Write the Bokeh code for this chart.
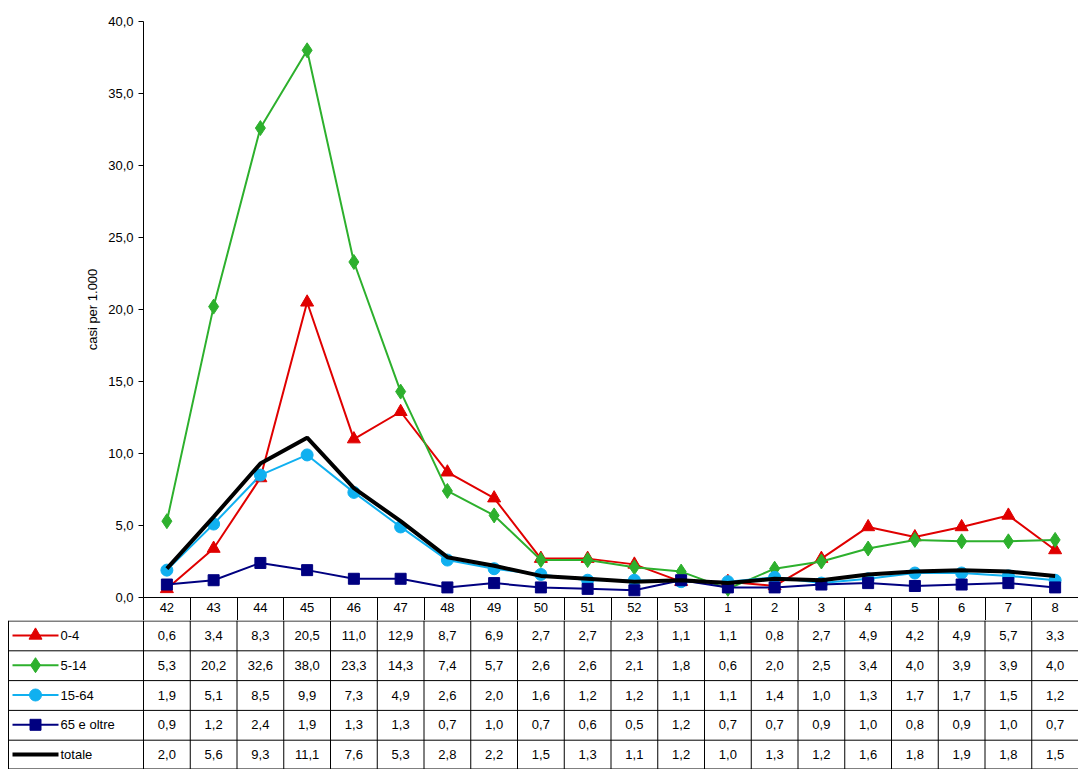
from bokeh.plotting import figure
from bokeh.layouts import column
from bokeh.models import Range1d, FixedTicker
from bokeh.core.properties import value
from bokeh.embed import file_html
from bokeh.resources import INLINE

weeks = ["42","43","44","45","46","47","48","49","50","51","52","53","1","2","3","4","5","6","7","8"]
s04 = [0.6,3.4,8.3,20.5,11.0,12.9,8.7,6.9,2.7,2.7,2.3,1.1,1.1,0.8,2.7,4.9,4.2,4.9,5.7,3.3]
s514 = [5.3,20.2,32.6,38.0,23.3,14.3,7.4,5.7,2.6,2.6,2.1,1.8,0.6,2.0,2.5,3.4,4.0,3.9,3.9,4.0]
s1564 = [1.9,5.1,8.5,9.9,7.3,4.9,2.6,2.0,1.6,1.2,1.2,1.1,1.1,1.4,1.0,1.3,1.7,1.7,1.5,1.2]
s65 = [0.9,1.2,2.4,1.9,1.3,1.3,0.7,1.0,0.7,0.6,0.5,1.2,0.7,0.7,0.9,1.0,0.8,0.9,1.0,0.7]
tot = [2.0,5.6,9.3,11.1,7.6,5.3,2.8,2.2,1.5,1.3,1.1,1.2,1.0,1.3,1.2,1.6,1.8,1.9,1.8,1.5]
names = ["0-4","5-14","15-64","65 e oltre","totale"]
yticks = [0,5,10,15,20,25,30,35,40]

FONT = "Liberation Sans"
series = [
    (s04, "#e00000", "triangle", 13),
    (s514, "#2db02d", "diamond", 15),
    (s1564, "#10b0f0", "circle", 12),
    (s65, "#000080", "square", 11),
    (tot, "#000000", None, 0),
]
n = len(weeks)
xs = [i + 0.5 for i in range(n)]
W = 1078
LEFT = 143
unit = (W - LEFT) / n

p = figure(width=W, height=620, x_range=Range1d(0, n), y_range=Range1d(0, 40),
           output_backend="svg", toolbar_location=None,
           min_border_left=LEFT, min_border_right=0, min_border_top=21, min_border_bottom=23)
p.frame_align = False
p.outline_line_color = None
p.xgrid.visible = False
p.ygrid.visible = False
p.xaxis.ticker = FixedTicker(ticks=xs, minor_ticks=list(range(n + 1)))
p.xaxis.major_label_overrides = {x: w for x, w in zip(xs, weeks)}
p.xaxis.major_tick_line_color = None
p.xaxis.major_tick_in = 0
p.xaxis.major_tick_out = 0
p.xaxis.minor_tick_line_color = "black"
p.xaxis.minor_tick_in = 0
p.xaxis.minor_tick_out = 23
p.xaxis.axis_line_color = "black"
p.xaxis.major_label_standoff = -18
p.xaxis.major_label_text_font = FONT
p.xaxis.major_label_text_font_size = "13px"
p.xaxis.major_label_text_color = "black"
p.yaxis.ticker = FixedTicker(ticks=yticks)
p.yaxis.major_label_overrides = {t: f"{t:.1f}".replace(".", ",") for t in yticks}
p.yaxis.minor_tick_line_color = None
p.yaxis.axis_line_color = "black"
p.yaxis.major_tick_line_color = "black"
p.yaxis.major_tick_in = 0
p.yaxis.major_tick_out = 5
p.yaxis.major_label_text_font = FONT
p.yaxis.major_label_text_font_size = "13px"
p.yaxis.major_label_text_color = "black"
p.yaxis.axis_label = "casi per 1.000"
p.yaxis.axis_label_text_font = FONT
p.yaxis.axis_label_text_font_size = "13px"
p.yaxis.axis_label_text_font_style = "normal"
p.yaxis.axis_label_text_color = "black"

for vals, col, mk, sz in series:
    if mk is None:
        p.line(xs, vals, line_color=col, line_width=4)
    else:
        p.line(xs, vals, line_color=col, line_width=2)
        p.scatter(xs, vals, marker=mk, size=sz, fill_color=col, line_color=col)

# table below the header row
H = 149
rowh = H / 5
lx0 = -LEFT / unit
t = figure(width=W, height=H, x_range=Range1d(lx0, n), y_range=Range1d(H, 0),
           output_backend="svg", toolbar_location=None,
           min_border_left=0, min_border_right=0, min_border_top=0, min_border_bottom=0)
t.frame_align = False
t.outline_line_color = None
t.axis.visible = False
t.grid.visible = False
tl = lx0 + 8 / unit
ys = [k * rowh + 0.5 for k in range(5)] + [H - 0.5]
t.segment(x0=[tl] * 6, y0=ys, x1=[n] * 6, y1=ys, line_color="black", line_width=1)
vx = [tl] + list(range(n + 1))
t.segment(x0=vx, y0=[0] * len(vx), x1=vx, y1=[H] * len(vx), line_color="black", line_width=1)
for k, (vals, col, mk, sz) in enumerate(series):
    yc = (k + 0.5) * rowh
    t.text(x=xs, y=[yc] * n, text=[f"{v:.1f}".replace(".", ",") for v in vals],
           text_align="center", text_baseline="middle", text_font=value(FONT), text_font_size="13px")
    a = lx0 + 12 / unit
    b = lx0 + 58 / unit
    t.line([a, b], [yc, yc], line_color=col, line_width=4 if mk is None else 2)
    if mk is not None:
        t.scatter([(a + b) / 2], [yc], marker=mk, size=sz, fill_color=col, line_color=col)
    t.text(x=[b + 2 / unit], y=[yc], text=[names[k]], text_align="left", text_baseline="middle",
           text_font=value(FONT), text_font_size="13px")

lay = column(p, t, spacing=0)
open("out.html", "w").write(file_html(lay, INLINE))
